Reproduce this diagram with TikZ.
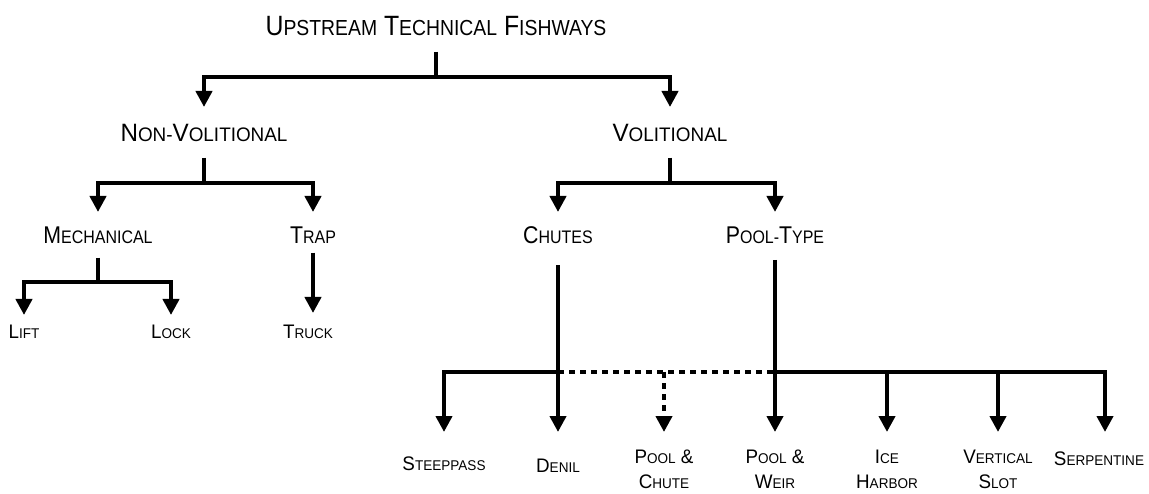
\documentclass[tikz,border=0pt]{standalone}
\usepackage{fontspec}
\setmainfont{Liberation Sans}
\usetikzlibrary{arrows.meta}
\makeatletter
% fake small caps: shrink the lower part of each word
\def\smlratio{0.75}
\newcommand\sml[1]{{\edef\smlsize{\fpeval{\smlratio*\f@size}}\fontsize{\smlsize}{\f@baselineskip}\selectfont#1}}
\makeatother

\begin{document}
\begin{tikzpicture}[x=1pt,y=-1pt,every node/.style={inner sep=0pt,anchor=north,align=center},
  top/.style={font={\fontsize{27.9}{32}\selectfont\addfontfeature{FakeStretch=0.89}\def\smlratio{0.78}}},
  big/.style={font={\fontsize{25.1}{30}\selectfont\addfontfeature{FakeStretch=0.965}\def\smlratio{0.78}}},
  mid/.style={font={\fontsize{24.2}{28}\selectfont\addfontfeature{FakeStretch=0.88}\def\smlratio{0.75}}},
  low/.style={font={\fontsize{19.6}{24.5}\selectfont\addfontfeature{FakeStretch=0.96}\def\smlratio{0.72}}},
  bar/.style={line width=4pt},tree/.style={bar,-{Triangle[width=16pt,length=16pt]}},
  dots/.style={bar,dash pattern=on 6pt off 5pt}]
\useasboundingbox (0,0) rectangle (1149,494);
\node[top] (up) at (436,16.3) {U\sml{PSTREAM} T\sml{ECHNICAL} F\sml{ISHWAYS}};
\node[big] (nv) at (204,124.3) {N\sml{ON-}V\sml{OLITIONAL}};
\node[big] (vo) at (670,124.3) {V\sml{OLITIONAL}};
\node[mid] (me) at (98,226.7) {M\sml{ECHANICAL}};
\node[mid] (tr) at (313,226.7) {T\sml{RAP}};
\node[mid] (ch) at (558,226.7) {C\sml{HUTES}};
\node[mid] (pt) at (775,226.7) {P\sml{OOL-}T\sml{YPE}};
\node[low] (li) at (24,325) {L\sml{IFT}};
\node[low] (lo) at (171,325) {L\sml{OCK}};
\node[low] (tk) at (308,325) {T\sml{RUCK}};
\node[low] (sp) at (444,457) {S\sml{TEEPPASS}};
\node[low] (dn) at (558,459) {D\sml{ENIL}};
\node[low] (pc) at (664,450) {P\sml{OOL} \&\\C\sml{HUTE}};
\node[low] (pw) at (775,450) {P\sml{OOL} \&\\W\sml{EIR}};
\node[low] (ih) at (887,450) {I\sml{CE}\\H\sml{ARBOR}};
\node[low] (vs) at (998,450) {V\sml{ERTICAL}\\S\sml{LOT}};
\node[low] (se) at (1099,452) {S\sml{ERPENTINE}};
\coordinate (by) at (0,372);
\coordinate (cj) at (ch.south |- by);
\coordinate (pj) at (pt.south |- by);
% upper levels
\draw[tree,shorten <=15.7,shorten >=17.3] (up.south) -- ++(0,40.7) -| (nv.north);
\draw[tree,shorten <=15.7,shorten >=17.3] (up.south) -- ++(0,40.7) -| (vo.north);
\draw[tree,shorten <=15.7,shorten >=14.7] (nv.south) -- ++(0,40.7) -| (me.north);
\draw[tree,shorten <=15.7,shorten >=14.7] (nv.south) -- ++(0,40.7) -| (tr.north);
\draw[tree,shorten <=15.7,shorten >=14.7] (vo.south) -- ++(0,40.7) -| (ch.north);
\draw[tree,shorten <=15.7,shorten >=14.7] (vo.south) -- ++(0,40.7) -| (pt.north);
\draw[tree,shorten <=14,shorten >=10] (me.south) -- ++(0,38) -| (li.north);
\draw[tree,shorten <=14,shorten >=10] (me.south) -- ++(0,38) -| (lo.north);
\draw[tree,shorten <=9,shorten >=12] (tr.south) -- (tr.south |- tk.north);
% chutes and pool-type
\draw[bar,shorten <=21] (ch.south) -- (cj);
\draw[bar,shorten <=16] (pt.south) -- (pj);
\draw[tree,shorten >=25] (cj) -| (sp.north);
\draw[tree,shorten >=27] (cj) -- (dn.north);
\draw[dots] (cj) -- (pj);
\draw[dots,-{Triangle[width=16pt,length=16pt]},shorten >=18] (pc.north |- by) -- (pc.north);
\draw[tree,shorten >=18] (pj) -- (pw.north);
\draw[tree,shorten >=18] (pj) -| (ih.north);
\draw[tree,shorten >=18] (pj) -| (vs.north);
\draw[tree,shorten >=20] (pj) -| ([xshift=6pt]se.north);
\end{tikzpicture}
\end{document}
